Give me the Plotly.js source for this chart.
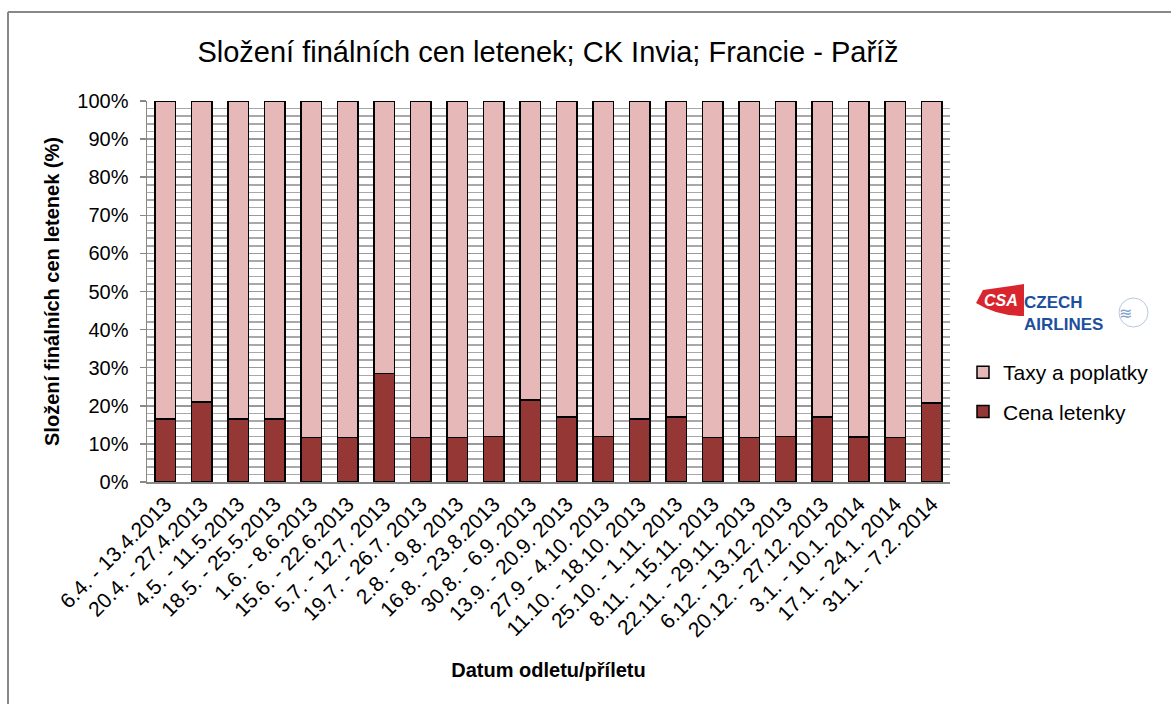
<!DOCTYPE html>
<html>
<head>
<meta charset="utf-8">
<script src="https://cdn.plot.ly/plotly-3.0.1.min.js"></script>
<style>html,body{margin:0;padding:0;background:#fff;}#chart{width:1171px;height:704px;}</style>
</head>
<body>
<div id="chart"></div>
<script>
const categories = [
  "6.4. - 13.4.2013", "20.4. - 27.4.2013", "4.5. - 11.5.2013", "18.5. - 25.5.2013",
  "1.6. - 8.6.2013", "15.6. - 22.6.2013", "5.7. - 12.7. 2013", "19.7. - 26.7. 2013",
  "2.8. - 9.8. 2013", "16.8. - 23.8.2013", "30.8. - 6.9. 2013", "13.9. - 20.9. 2013",
  "27.9 - 4.10. 2013", "11.10. - 18.10. 2013", "25.10. - 1.11. 2013", "8.11. - 15.11. 2013",
  "22.11. - 29.11. 2013", "6.12. - 13.12. 2013", "20.12. - 27.12. 2013", "3.1. - 10.1. 2014",
  "17.1. - 24.1. 2014", "31.1. - 7.2. 2014"
];
const cenaLetenky = [16.6, 21.0, 16.6, 16.6, 11.7, 11.7, 28.5, 11.7, 11.7, 11.9, 21.5, 17.0,
                     12.0, 16.5, 17.0, 11.7, 11.7, 11.9, 17.0, 11.8, 11.7, 20.8];
const taxyPoplatky = [83.4, 79.0, 83.4, 83.4, 88.3, 88.3, 71.5, 88.3, 88.3, 88.1, 78.5, 83.0,
                      88.0, 83.5, 83.0, 88.3, 88.3, 88.1, 83.0, 88.2, 88.3, 79.2];
const seriesNames = ["Cena letenky", "Taxy a poplatky"];
const yTickVals = [0, 10, 20, 30, 40, 50, 60, 70, 80, 90, 100];
const yTickText = ["0%", "10%", "20%", "30%", "40%", "50%", "60%", "70%", "80%", "90%", "100%"];

const FONT = "Liberation Sans, Arial, sans-serif";
const L = 147, R = 950, T = 101, B = 482;
const px = x => (x - L) / (R - L);
const py = y => (B - y) / (B - T);

const traces = [
  {type: "bar", name: seriesNames[0], x: categories, y: cenaLetenky, legendgroup: "a", legendrank: 2,
   marker: {color: "#953735", line: {color: "#000", width: 1.5}}, width: 0.56},
  {type: "bar", name: seriesNames[1], x: categories, y: taxyPoplatky, legendgroup: "b", legendrank: 1,
   marker: {color: "#E6B9B8", line: {color: "#000", width: 1.5}}, width: 0.56}
];

const layout = {
  width: 1171, height: 704,
  margin: {l: L, r: 1171 - R, t: T, b: 704 - B},
  paper_bgcolor: "#fff", plot_bgcolor: "#fff",
  barmode: "stack", showlegend: true,
  font: {family: FONT, color: "#000"},
  title: {text: "Složení finálních cen letenek; CK Invia; Francie - Paříž",
          font: {family: FONT, size: 29, color: "#000"},
          x: 0.468, xanchor: "center", y: 0.926, yanchor: "middle"},
  xaxis: {type: "category", tickangle: -45, tickfont: {size: 21, family: FONT},
          showline: true, linecolor: "#888", linewidth: 1.5, ticks: "",
          showgrid: false, automargin: false,
          title: {text: "<b>Datum odletu/příletu</b>", font: {size: 20, family: FONT}, standoff: 22}},
  yaxis: {range: [0, 100], tickvals: yTickVals, ticktext: yTickText,
          tickfont: {size: 20, family: FONT}, ticks: "outside", ticklen: 6,
          tickcolor: "#888", tickwidth: 1.5, automargin: false, ticklabelstandoff: 7,
          showline: true, linecolor: "#888", linewidth: 1.5,
          showgrid: true, gridcolor: "#999", gridwidth: 1.5,
          minor: {dtick: 2, showgrid: true, gridcolor: "#a8a8a8", gridwidth: 1.5},
          zeroline: false,
          title: {text: "<b>Složení finálních cen letenek (%)</b>", font: {size: 20, family: FONT}, standoff: 12}},
  legend: {x: px(963), y: py(352), xanchor: "left", yanchor: "top",
           traceorder: "grouped", tracegroupgap: 9, font: {size: 21, family: FONT},
           itemwidth: 30, bgcolor: "rgba(0,0,0,0)"},
  shapes: [
    {type: "line", xref: "paper", yref: "paper", x0: px(8), y0: py(12), x1: px(8), y1: py(720),
     line: {color: "#888", width: 2}},
    {type: "line", xref: "paper", yref: "paper", x0: px(8), y0: py(12), x1: px(1180), y1: py(12),
     line: {color: "#888", width: 2}},
    {type: "path", xref: "paper", yref: "paper",
     path: `M ${px(983)} ${py(290)} L ${px(1024)} ${py(284)} L ${px(1024)} ${py(316)} Q ${px(997)} ${py(316)} ${px(976)} ${py(303)} Z`,
     fillcolor: "#D9262E", line: {width: 0}},
    {type: "circle", xref: "paper", yref: "paper",
     x0: px(1119), y0: py(298), x1: px(1148), y1: py(327),
     line: {color: "#b8c8dc", width: 1}, fillcolor: "rgba(0,0,0,0)"}
  ],
  annotations: [
    {xref: "paper", yref: "paper", x: px(982), y: py(300), xanchor: "left", yanchor: "middle",
     text: "<b><i>CSA</i></b>", showarrow: false, font: {size: 16, color: "#ffffff", family: FONT}},
    {xref: "paper", yref: "paper", x: px(1022), y: py(313), xanchor: "left", yanchor: "middle", align: "left",
     text: "<b>CZECH</b><br><b>AIRLINES</b>", showarrow: false,
     font: {size: 17, color: "#1d4f9c", family: FONT}},
    {xref: "paper", yref: "paper", x: px(1134), y: py(313), text: "≋",
     showarrow: false, font: {size: 16, color: "#7fa2cc", family: FONT}}
  ]
};

Plotly.newPlot("chart", traces, layout, {displayModeBar: false, staticPlot: true});
</script>
</body>
</html>
